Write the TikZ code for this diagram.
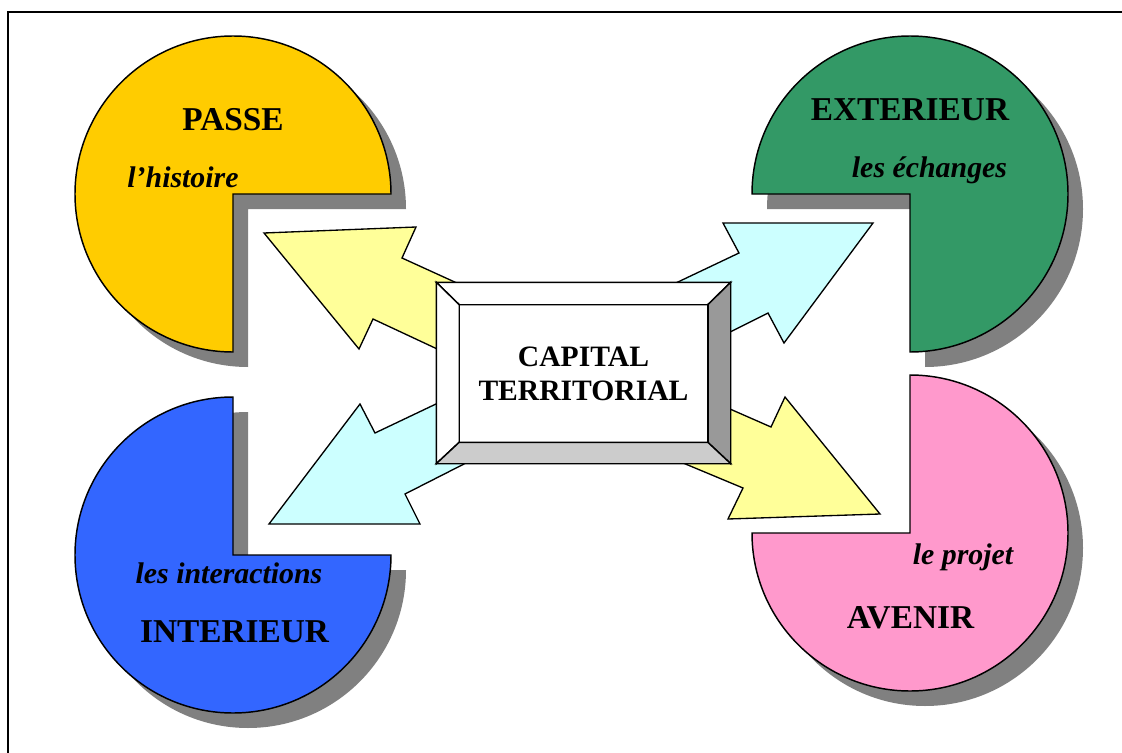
\documentclass[tikz,border=0pt]{standalone}
\usepackage{fontspec}
\setmainfont{Liberation Serif}
\definecolor{passecol}{HTML}{FFCC00}
\definecolor{extcol}{HTML}{339966}
\definecolor{intcol}{HTML}{3366FF}
\definecolor{avecol}{HTML}{FF99CC}
\definecolor{shadowgray}{HTML}{808080}
\definecolor{arrowyellow}{HTML}{FFFF99}
\definecolor{arrowcyan}{HTML}{CCFFFF}
\definecolor{bevelright}{HTML}{999999}
\definecolor{bevelbottom}{HTML}{CCCCCC}
\begin{document}
\begin{tikzpicture}[x=0.75pt,y=-0.75pt,
  outline/.style={draw=black, line width=1.1pt, line join=miter},
  dropshadow/.style={fill=shadowgray, shift={(15,15)}},
  title/.style={font=\fontsize{25pt}{30pt}\selectfont\bfseries, inner sep=0pt, anchor=base},
  subtitle/.style={font=\fontsize{22.4pt}{27pt}\selectfont\bfseries\itshape, inner sep=0pt, anchor=base},
  blockarrow/.style={outline, line width=1pt}]

% page and frame
\clip (0,0) rectangle (1122,753);
\fill[white] (0,0) rectangle (1122,753);
\draw[line width=1.2pt] (8,12) rectangle (1130,770);

% quarter-cut discs: shadows first, then the coloured faces
\fill[dropshadow] (233,194) -- (391,194) arc[start angle=0, end angle=-270, radius=158] -- cycle;
\fill[dropshadow] (910,194) -- (910,352) arc[start angle=90, end angle=-180, radius=158] -- cycle;
\fill[dropshadow] (233,555) -- (233,397) arc[start angle=-90, end angle=-360, radius=158] -- cycle;
\fill[dropshadow] (910,533) -- (752,533) arc[start angle=180, end angle=-90, radius=158] -- cycle;

\filldraw[outline, fill=passecol] (233,194) -- (391,194) arc[start angle=0, end angle=-270, radius=158] -- cycle;
\filldraw[outline, fill=extcol] (910,194) -- (910,352) arc[start angle=90, end angle=-180, radius=158] -- cycle;
\filldraw[outline, fill=intcol] (233,555) -- (233,397) arc[start angle=-90, end angle=-360, radius=158] -- cycle;
\filldraw[outline, fill=avecol] (910,533) -- (752,533) arc[start angle=180, end angle=-90, radius=158] -- cycle;

% disc labels
\node[title] (passe) at (233,130) {PASSE};
\node[subtitle] (histoire) at (183,187) {l’histoire};
\node[title] (exterieur) at (910,120) {EXTERIEUR};
\node[subtitle] (echanges) at (929.5,177) {les échanges};
\node[subtitle] (interactions) at (229,583) {les interactions};
\node[title] (interieur) at (234.5,642) {INTERIEUR};
\node[subtitle] (projet) at (963,564) {le projet};
\node[title] (avenir) at (910.5,628) {AVENIR};

% block arrows radiating from the centre
\filldraw[blockarrow, fill=arrowyellow] (264,233) -- (416,227) -- (402,258) -- (560,330) -- (540,397) -- (373,319) -- (359,349) -- cycle;
\filldraw[blockarrow, fill=arrowcyan] (873,223) -- (784,343) -- (768,313) -- (620,387) -- (600,319) -- (739,253) -- (723,223) -- cycle;
\filldraw[blockarrow, fill=arrowcyan] (269,524) -- (360,404) -- (375,433) -- (560,345) -- (580,405) -- (405,494) -- (420,524) -- cycle;
\filldraw[blockarrow, fill=arrowyellow] (880,514) -- (728,519) -- (743,488) -- (580,420) -- (600,352) -- (771,427) -- (785,397) -- cycle;

% bevelled central panel
\node[outline, fill=white, minimum width=219.75pt, minimum height=135pt, inner sep=0pt] (panel) at (583.5,373) {};
\node[inner sep=0pt, minimum width=186pt, minimum height=102.75pt, align=center,
      font=\fontsize{22.2pt}{25.5pt}\selectfont\bfseries] (capital) at (583.5,373.5) {CAPITAL\\TERRITORIAL};
\filldraw[outline, fill=white] (panel.north west) -- (panel.north east) -- (capital.north east) -- (capital.north west) -- cycle;
\filldraw[outline, fill=white] (panel.north west) -- (capital.north west) -- (capital.south west) -- (panel.south west) -- cycle;
\filldraw[outline, fill=bevelright] (panel.north east) -- (panel.south east) -- (capital.south east) -- (capital.north east) -- cycle;
\filldraw[outline, fill=bevelbottom] (panel.south west) -- (panel.south east) -- (capital.south east) -- (capital.south west) -- cycle;
\draw[outline] (capital.north west) rectangle (capital.south east);
\end{tikzpicture}
\end{document}
